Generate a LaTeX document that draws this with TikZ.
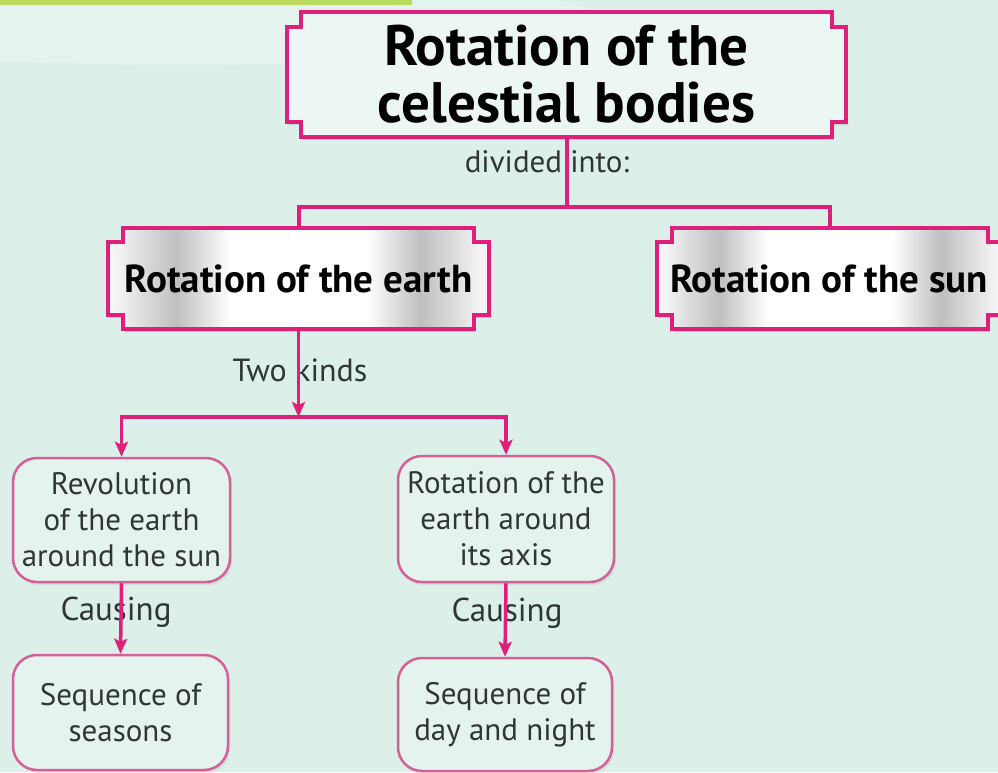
\documentclass[tikz,border=0pt]{standalone}
\usepackage{fontspec}
\setmainfont{PT Sans}
\usetikzlibrary{arrows.meta,shadows,backgrounds}
\definecolor{bg}{RGB}{220,239,232}
\definecolor{pinkA}{RGB}{222,32,122}
\definecolor{pinkB}{RGB}{212,96,152}
\definecolor{barg}{RGB}{188,218,96}
\definecolor{txt}{RGB}{48,54,52}
\pgfdeclarehorizontalshading{glossy}{100bp}{color(0bp)=(gray!5); color(26bp)=(gray!8); color(34bp)=(gray!50); color(41bp)=(white); color(59bp)=(white); color(66bp)=(gray!50); color(74bp)=(gray!8); color(100bp)=(gray!5)}
\newcommand\notchframe[4]{%
\path[#4] ([xshift=#2]#1.north west) -- ([xshift=-#2]#1.north east) -- ([xshift=-#2,yshift=-#3]#1.north east) -- ([yshift=-#3]#1.north east) -- ([yshift=#3]#1.south east) -- ([xshift=-#2,yshift=#3]#1.south east) -- ([xshift=-#2]#1.south east) -- ([xshift=#2]#1.south west) -- ([xshift=#2,yshift=#3]#1.south west) -- ([yshift=#3]#1.south west) -- ([yshift=-#3]#1.north west) -- ([xshift=#2,yshift=-#3]#1.north west) -- cycle;}
\tikzset{
  boxnode/.style={inner sep=0pt, outer sep=0pt},
  bigframe/.style={draw=pinkA, line width=4pt, line join=miter, fill=white!45!bg, drop shadow={opacity=0.25, shadow xshift=2pt, shadow yshift=-3pt}},
  midframe/.style={draw=pinkA, line width=3.5pt, line join=miter, shading=glossy, drop shadow={opacity=0.25, shadow xshift=2pt, shadow yshift=-3pt}},
  roundbox/.style={draw=pinkB, line width=2.5pt, rounded corners=24pt, fill=white!25!bg, align=center, text=txt, inner sep=0pt, font=\fontsize{31}{36}\selectfont, drop shadow={opacity=0.15, shadow xshift=2pt, shadow yshift=-3pt}},
  lbl/.style={text=txt, inner sep=0pt},
  conn/.style={draw=pinkA, line width=4pt},
  arr/.style={draw=pinkA, line width=3.5pt, -{Stealth[length=15pt,width=13pt,inset=3pt]}},
}
\begin{document}
\begin{tikzpicture}[x=1pt,y=1pt]
\useasboundingbox (0,0) rectangle (998,-772);
\begin{pgfonlayer}{background}
\fill[bg] (0,0) rectangle (998,-772);
\fill[white, opacity=0.25] (180,-20) ellipse (420pt and 45pt);
\fill[barg] (0,0) rectangle (412,-5);
\end{pgfonlayer}

% top box
\node[boxnode, minimum width=559pt, minimum height=125pt, align=center,
      font=\bfseries\fontsize{57}{57}\selectfont] (main) at (566.5,-74.5) {Rotation of the\\celestial bodies};
% second level
\node[boxnode, minimum width=381pt, minimum height=101pt, font=\bfseries\fontsize{39}{40}\selectfont] (earth) at (298.5,-278.5) {Rotation of the earth};
\node[boxnode, minimum width=346pt, minimum height=101pt] (sun) at (830,-278.5) {};
\node[boxnode, font=\bfseries\fontsize{39}{40}\selectfont] (suntext) at (829,-279) {Rotation of the sun};

\begin{pgfonlayer}{background}
\notchframe{main}{14pt}{15pt}{bigframe}
\notchframe{earth}{15pt}{14pt}{midframe}
\notchframe{sun}{15pt}{14pt}{midframe}
\end{pgfonlayer}

% bottom boxes
\node[roundbox, minimum width=217pt, minimum height=124pt] (rev) at (121.5,-520) {Revolution\\of the earth\\around the sun};
\node[roundbox, minimum width=215pt, minimum height=115pt] (seasons) at (120.5,-712.5) {Sequence of\\seasons};
\node[roundbox, minimum width=216pt, minimum height=126pt] (axis) at (506,-519) {Rotation of the\\earth around\\its axis};
\node[roundbox, minimum width=214pt, minimum height=113pt] (day) at (505,-714.5) {Sequence of\\day and night};

% labels
\node[lbl, font=\fontsize{31}{34}\selectfont] (div) at (547,-162) {divided into:};
\node[lbl, font=\fontsize{32}{34}\selectfont] (two) at (300,-370) {Two kinds};
\node[lbl, font=\fontsize{33}{36}\selectfont] (c1) at (116,-612) {Causing};
\node[lbl, font=\fontsize{33}{36}\selectfont] (c2) at (507,-613) {Causing};

% connectors
\coordinate (j1) at (566.5,-207);
\coordinate (j2) at (298.5,-417);
\draw[conn] (main.south) -- (j1);
\draw[conn, line cap=rect] (earth.north) |- (j1) -| (sun.north);
\draw[arr] (earth.south) -- (j2);
\draw[draw=pinkA, line width=3.5pt] (rev.north |- j2) -- (axis.north |- j2);
\draw[arr] ([yshift=1.75pt]rev.north |- j2) -- (rev.north);
\draw[arr] ([yshift=1.75pt]axis.north |- j2) -- (axis.north);
\draw[arr] (rev.south) -- (seasons.north);
\draw[arr] (axis.south) -- (day.north);
\end{tikzpicture}
\end{document}
